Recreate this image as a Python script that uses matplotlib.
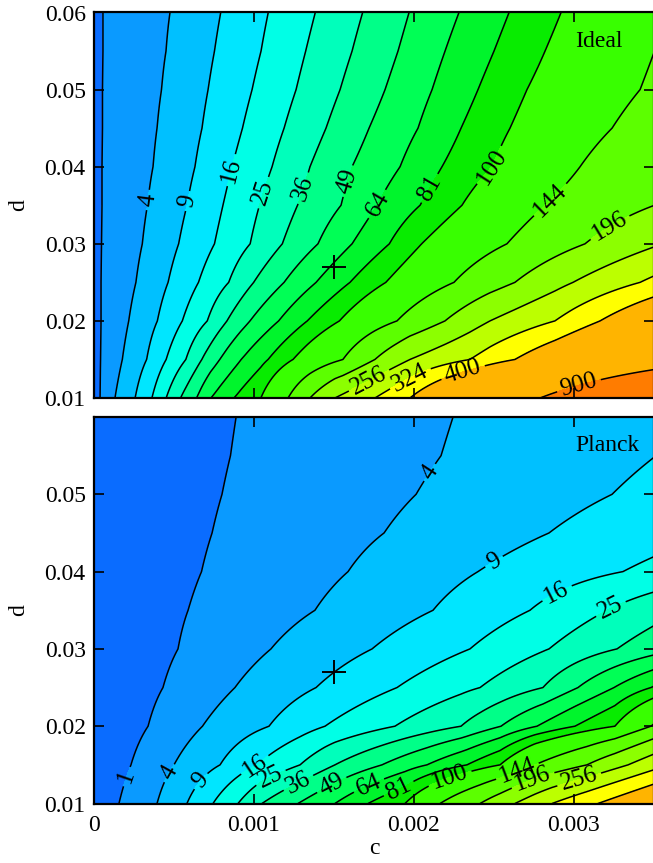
import numpy as np
import matplotlib.pyplot as plt
from matplotlib.ticker import FuncFormatter

plt.rcParams['font.family'] = ['Liberation Serif', 'DejaVu Serif']

# chi^2 contour levels and the d values of the rows they were traced on
levels = [1, 4, 9, 16, 25, 36, 49, 64, 81, 100, 144, 196, 256, 324, 400, 900]
d_rows = [0.06, 0.055, 0.05, 0.045, 0.04, 0.035, 0.03, 0.025, 0.02, 0.015, 0.01]
nan = np.nan

# c (in units of 1e-3) where each contour crosses the rows in d_rows
ideal_cross = {
    1:   [0.056, 0.056, 0.053, 0.053, 0.050, 0.050, 0.047, 0.044, 0.044, 0.041, 0.038],
    4:   [0.475, 0.450, 0.422, 0.394, 0.369, 0.334, 0.302, 0.262, 0.217, 0.177, 0.131],
    9:   [0.792, 0.753, 0.713, 0.675, 0.631, 0.581, 0.529, 0.463, 0.396, 0.329, 0.257],
    16:  [1.089, 1.044, 0.988, 0.928, 0.863, 0.806, 0.753, 0.653, 0.552, 0.451, 0.362],
    25:  [1.383, 1.323, 1.263, 1.188, 1.113, 1.034, 0.976, 0.842, 0.708, 0.574, 0.451],
    36:  [1.679, 1.613, 1.538, 1.450, 1.350, 1.272, 1.177, 0.998, 0.831, 0.674, 0.541],
    49:  [1.969, 1.900, 1.819, 1.719, 1.613, 1.544, 1.400, 1.188, 0.975, 0.786, 0.641],
    64:  [2.281, 2.194, 2.113, 2.025, 1.913, 1.769, 1.613, 1.388, 1.154, 0.920, 0.731],
    81:  [2.594, 2.500, 2.400, 2.294, 2.175, 2.038, 1.846, 1.600, 1.333, 1.088, 0.875],
    100: [2.919, 2.819, 2.706, 2.600, 2.488, 2.300, 2.048, 1.824, 1.534, 1.244, 1.043],
    144: [nan, nan, 3.413, 3.238, 3.038, 2.819, 2.581, 2.250, 1.894, 1.556, 1.213],
    196: [nan, nan, nan, nan, nan, nan, 3.069, 2.631, 2.194, 1.756, 1.350],
    256: [nan, nan, nan, nan, nan, nan, nan, 2.994, 2.475, 1.975, 1.506],
    324: [nan, nan, nan, nan, nan, nan, nan, 3.413, 2.881, 2.350, 1.756],
    400: [nan, nan, nan, nan, nan, nan, nan, nan, 3.163, 2.631, 1.975],
    900: [nan, nan, nan, nan, nan, nan, nan, nan, nan, nan, 2.788],
}

planck_cross = {
    1:   [0.888, 0.853, 0.800, 0.738, 0.672, 0.588, 0.525, 0.431, 0.338, 0.231, 0.156],
    4:   [2.244, 2.169, 2.013, 1.813, 1.588, 1.381, 1.106, 0.881, 0.678, 0.500, 0.394],
    9:   [nan, nan, 3.238, 2.844, 2.400, 2.119, 1.738, 1.388, 1.094, 0.788, 0.581],
    16:  [nan, nan, nan, nan, 3.306, 2.725, 2.350, 1.894, 1.444, 1.019, 0.744],
    25:  [nan, nan, nan, nan, nan, 3.206, 2.844, 2.413, 1.881, 1.288, 0.900],
    36:  [nan, nan, nan, nan, nan, nan, 3.269, 2.806, 2.294, 1.506, 1.050],
    49:  [nan, nan, nan, nan, nan, nan, nan, 3.025, 2.544, 1.800, 1.275],
    64:  [nan, nan, nan, nan, nan, nan, nan, 3.250, 2.769, 2.081, 1.506],
    81:  [nan, nan, nan, nan, nan, nan, nan, 3.481, 3.006, 2.331, 1.713],
    100: [nan, nan, nan, nan, nan, nan, nan, nan, 3.256, 2.538, 1.944],
    144: [nan, nan, nan, nan, nan, nan, nan, nan, 3.481, 2.756, 2.163],
    196: [nan, nan, nan, nan, nan, nan, nan, nan, nan, 3.081, 2.413],
    256: [nan, nan, nan, nan, nan, nan, nan, nan, nan, 3.338, 2.631],
    324: [nan, nan, nan, nan, nan, nan, nan, nan, nan, nan, 2.863],
    400: [nan, nan, nan, nan, nan, nan, nan, nan, nan, nan, 3.150],
    900: [nan] * 11,
}

# where the contour labels sit (c, d)
ideal_labels = [(0.000331, 0.0357), (0.000544, 0.0357), (0.00085, 0.0396),
                (0.00105, 0.0367), (0.00128, 0.0374), (0.001575, 0.0382),
                (0.001775, 0.0351), (0.002056, 0.0377), (0.002488, 0.04),
                (0.002838, 0.036), (0.003225, 0.0321), (0.001713, 0.0125),
                (0.001988, 0.0121), (0.002306, 0.0134), (0.003019, 0.0125)]
planck_labels = [(0.000173, 0.0137), (0.000463, 0.014), (0.0021, 0.0528),
                 (0.000644, 0.0133), (0.002506, 0.0411), (0.001006, 0.015),
                 (0.002894, 0.0372), (0.001113, 0.013), (0.003225, 0.0354),
                 (0.001275, 0.0128), (0.001494, 0.0121), (0.001725, 0.012),
                 (0.001913, 0.0115), (0.002238, 0.0124), (0.002644, 0.0143),
                 (0.002756, 0.0124), (0.003038, 0.0127)]

fiducial = (0.0015, 0.027)
c_max = 0.0035

band_colors = ['#0a6cff', '#0a9aff', '#00c0ff', '#00e6ff', '#00ffe6', '#00ffbb',
               '#00ff88', '#00ff55', '#00f52c', '#08ec00', '#38ff00', '#5cff00',
               '#8cff00', '#bcff00', '#ffff00', '#ffb400', '#ff7c00']

c_grid = np.linspace(0, c_max, 701)


def build_field(cross):
    """sqrt(chi2) along each row, piecewise linear between the traced crossings."""
    roots = np.sqrt(levels)
    rows = []
    for j in range(len(d_rows)):
        idx = [k for k, lv in enumerate(levels) if not np.isnan(cross[lv][j])]
        cs = np.array([cross[levels[k]][j] * 1e-3 for k in idx])
        ss = roots[idx]
        lo = ss[0] - (ss[1] - ss[0]) / (cs[1] - cs[0]) * cs[0]
        lo = float(np.clip(lo, 0.0, ss[0] - 0.01))
        hi = ss[-1] + (ss[-1] - ss[-2]) / (cs[-1] - cs[-2]) * (c_max - cs[-1])
        if idx[-1] + 1 < len(levels):
            hi = min(hi, roots[idx[-1] + 1] - 0.01)
        xs = np.concatenate([[0.0], cs, [c_max]])
        ys = np.concatenate([[lo], ss, [hi]])
        rows.append(np.interp(c_grid, xs, ys))
    s = np.array(rows)[::-1]
    return s ** 2


def draw_panel(ax, cross, labels, name, show_x):
    z = build_field(cross)
    d = np.array(d_rows)[::-1]
    C, D = np.meshgrid(c_grid, d)
    ax.contourf(C, D, z, levels=[0] + levels + [1e5], colors=band_colors)
    cs = ax.contour(C, D, z, levels=levels, colors='k', linewidths=1.1)
    ax.clabel(cs, manual=labels, fmt=lambda v: f'{v:.0f}',
              fontsize=18, inline=True, inline_spacing=4)
    ax.plot(*fiducial, marker='+', color='k', markersize=17, mew=1.4)
    ax.text(0.86, 0.925, name, transform=ax.transAxes, fontsize=17, va='center')
    ax.set_xlim(0, c_max)
    ax.set_ylim(0.01, 0.06)
    ax.set_xticks([0, 0.001, 0.002, 0.003])
    ax.xaxis.set_major_formatter(FuncFormatter(lambda v, _: '0' if v == 0 else f'{v:g}'))
    ax.yaxis.set_major_formatter(FuncFormatter(lambda v, _: f'{v:g}'))
    ax.tick_params(direction='in', length=7, width=1.2, top=True, right=True,
                   labelsize=17, pad=6)
    ax.tick_params(axis='x', pad=8)
    if not show_x:
        ax.tick_params(labelbottom=False)
    ax.set_ylabel('d', fontsize=17, labelpad=11)
    for sp in ax.spines.values():
        sp.set_linewidth(1.6)


fig = plt.figure(figsize=(6.53, 8.63), dpi=100)
W, H = 653, 863
ax1 = fig.add_axes([94 / W, 1 - 398 / H, 560 / W, 385.5 / H])
ax2 = fig.add_axes([94 / W, 1 - 803.5 / H, 560 / W, 386.5 / H])

draw_panel(ax1, ideal_cross, ideal_labels, 'Ideal', False)
ax1.set_yticks([0.01, 0.02, 0.03, 0.04, 0.05, 0.06])
draw_panel(ax2, planck_cross, planck_labels, 'Planck', True)
ax2.set_yticks([0.01, 0.02, 0.03, 0.04, 0.05])
ax2.set_xlabel('c', fontsize=17, labelpad=2)

fig.savefig('out.png', dpi=100)
